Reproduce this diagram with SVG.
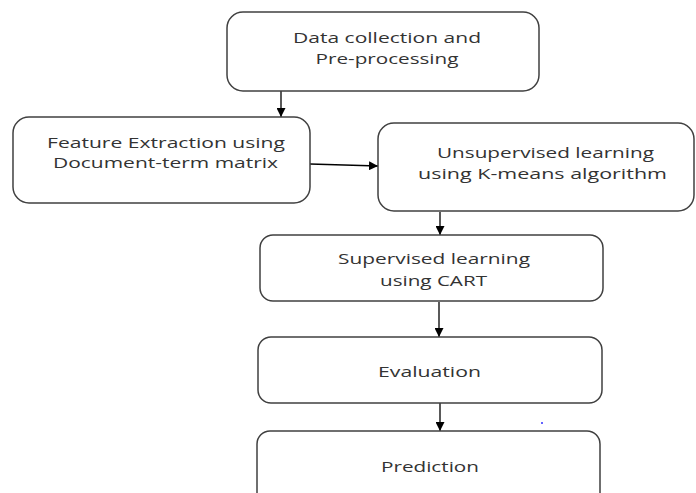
<svg xmlns="http://www.w3.org/2000/svg" width="696" height="493" viewBox="0 0 696 493">
<defs>
<style>
.box{fill:#fff;stroke:#404040;stroke-width:1.5}
.t{font-family:"Open Sans","Liberation Sans",sans-serif;font-size:15px;fill:#333;text-anchor:middle}
.c{stroke:#000;stroke-width:1.3;fill:none;marker-end:url(#ah)}
</style>
<marker id="ah" viewBox="0 0 10 10" refX="10" refY="5" markerWidth="9" markerHeight="9" markerUnits="userSpaceOnUse" orient="auto">
<path d="M0,0 L10,5 L0,10 z" fill="#000"/>
</marker>
</defs>
<rect width="696" height="493" fill="#fff"/>
<g id="connectors">
<line class="c" x1="281" y1="91" x2="281" y2="117"/>
<line class="c" x1="310" y1="164" x2="378" y2="166"/>
<line class="c" x1="440" y1="212" x2="440" y2="235"/>
<line class="c" x1="439" y1="302" x2="439" y2="337"/>
<line class="c" x1="440" y1="403" x2="440" y2="431"/>
</g>
<g id="n1">
<rect class="box" x="227" y="12" width="312" height="79" rx="16"/>
<text class="t" x="387" y="43" textLength="188" lengthAdjust="spacingAndGlyphs">Data collection and</text>
<text class="t" x="387" y="64" textLength="143" lengthAdjust="spacingAndGlyphs">Pre-processing</text>
</g>
<g id="n2">
<rect class="box" x="13" y="117" width="297" height="86" rx="16"/>
<text class="t" x="166" y="148" textLength="238" lengthAdjust="spacingAndGlyphs">Feature Extraction using</text>
<text class="t" x="165.5" y="168" textLength="225" lengthAdjust="spacingAndGlyphs">Document-term matrix</text>
</g>
<g id="n3">
<rect class="box" x="378" y="123" width="316" height="88" rx="16"/>
<text class="t" x="545.5" y="158" textLength="217" lengthAdjust="spacingAndGlyphs">Unsupervised learning</text>
<text class="t" x="542.5" y="179" textLength="249" lengthAdjust="spacingAndGlyphs">using K-means algorithm</text>
</g>
<g id="n4">
<rect class="box" x="260" y="235" width="343" height="66" rx="13"/>
<text class="t" x="434" y="264" textLength="192" lengthAdjust="spacingAndGlyphs">Supervised learning</text>
<text class="t" x="433.5" y="286" textLength="107" lengthAdjust="spacingAndGlyphs">using CART</text>
</g>
<g id="n5">
<rect class="box" x="258" y="337" width="344" height="66" rx="13"/>
<text class="t" x="429.5" y="377" textLength="103" lengthAdjust="spacingAndGlyphs">Evaluation</text>
</g>
<g id="n6">
<rect class="box" x="257" y="431" width="343" height="80" rx="13"/>
<text class="t" x="430" y="472" textLength="98" lengthAdjust="spacingAndGlyphs">Prediction</text>
</g>
<circle cx="542" cy="423" r="1" fill="#3030ff"/>
</svg>
